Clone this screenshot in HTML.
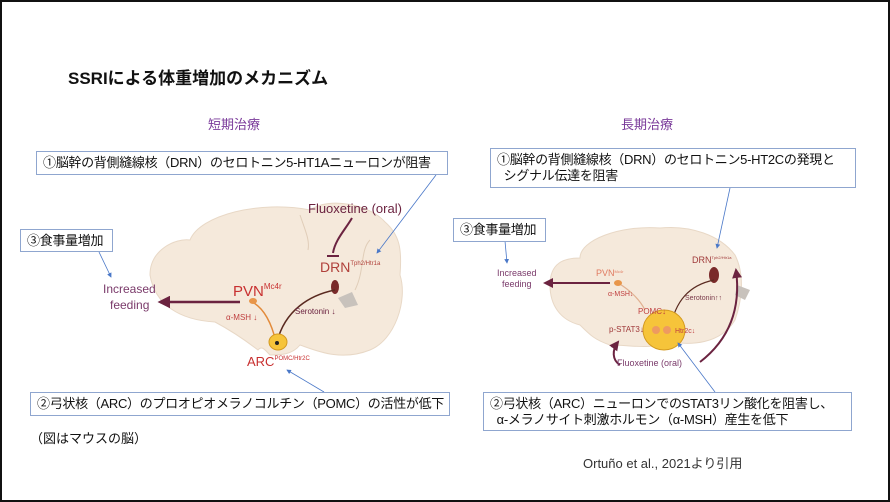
<!DOCTYPE html>
<html><head><meta charset="utf-8"><style>
body{margin:0;width:890px;height:502px;overflow:hidden;background:#fff;font-family:"Liberation Sans","Noto Sans CJK JP",sans-serif}
.f{position:absolute;left:0;top:0;width:886px;height:498px;border:2px solid #111}
.t{position:absolute;white-space:nowrap}
.b{position:absolute;border:1px solid #8fa6cf;background:#fff;font-size:13px;color:#111;padding:0 0 0 6px;box-sizing:border-box;line-height:19px;white-space:nowrap;letter-spacing:-0.3px;overflow:hidden}
</style></head><body>
<div class="f"></div>
<svg width="890" height="502" style="position:absolute;left:0;top:0">
<defs>
<marker id="a" markerWidth="6" markerHeight="6" refX="5" refY="3" orient="auto"><path d="M0,0L6,3L0,6z" fill="#4a78c8"/></marker>
<marker id="p" markerWidth="5" markerHeight="5" refX="4" refY="2.5" orient="auto"><path d="M0,0L5,2.5L0,5z" fill="#6b2340"/></marker>
</defs>
<path d="M150,275 C150,250 175,238 190,240 C200,215 260,200 310,210 C330,196 370,205 385,222 C400,235 402,250 400,275 C408,300 395,340 370,350 C340,362 315,350 300,345 C292,355 280,355 270,355 C265,350 262,345 258,350 C245,340 230,330 215,322 C180,320 155,305 150,275Z" fill="#f5e9db" stroke="#e8d8c6"/>
<path d="M338,298 L352,292 L358,305 L345,308Z" fill="#c8c2bc"/>
<path d="M300,215 C305,230 310,240 308,250" stroke="#e0cdb8" fill="none"/>
<path d="M355,290 C365,270 360,250 370,240" stroke="#e0cdb8" fill="none"/>
<path d="M550,285 C550,262 565,258 580,258 C580,240 620,225 660,228 C690,225 720,235 735,255 C745,275 742,300 735,320 C720,345 690,345 670,342 C650,350 630,345 610,345 C595,340 590,335 580,325 C560,320 550,305 550,285Z" fill="#f5e9db" stroke="#e8d8c6"/>
<path d="M737,285 L750,290 L745,300 L735,295Z" fill="#c8c2bc"/>
<path d="M352,218 C345,230 335,240 333,253" stroke="#6b2340" stroke-width="2" fill="none"/>
<line x1="327" y1="256" x2="339" y2="256" stroke="#6b2340" stroke-width="2"/>
<ellipse cx="335" cy="287" rx="4" ry="7" fill="#7a2a2a"/>
<path d="M335,290 C310,295 285,310 277,342" stroke="#5a2a20" stroke-width="1.5" fill="none"/>
<path d="M254,303 C265,310 272,325 276,342" stroke="#e28a3a" stroke-width="1.5" fill="none"/>
<ellipse cx="253" cy="301" rx="4" ry="3" fill="#e8964a"/>
<ellipse cx="278" cy="342" rx="9" ry="8" fill="#f6c43a" stroke="#d49a20"/>
<circle cx="277" cy="343" r="2" fill="#222"/>
<line x1="240" y1="302" x2="160" y2="302" stroke="#6b2340" stroke-width="2.5" marker-end="url(#p)"/>
<ellipse cx="714" cy="275" rx="5" ry="8" fill="#7a2a2a"/>
<path d="M714,280 C690,285 675,300 670,330" stroke="#5a2a20" stroke-width="1.2" fill="none"/>
<path d="M618,283 C630,290 640,300 645,310" stroke="#e0b090" stroke-width="1.2" fill="none"/>
<ellipse cx="618" cy="283" rx="4" ry="3" fill="#e8964a"/>
<ellipse cx="664" cy="330" rx="21" ry="20" fill="#f6c43a" stroke="#d49a20"/>
<circle cx="656" cy="330" r="4" fill="#ee9a60"/><circle cx="667" cy="330" r="4" fill="#ee9a60"/>
<line x1="610" y1="283" x2="545" y2="283" stroke="#6b2340" stroke-width="2" marker-end="url(#p)"/>
<path d="M620,365 C612,360 612,350 618,342" stroke="#6b2340" stroke-width="2" fill="none" marker-end="url(#p)"/>
<path d="M700,362 C735,335 740,300 736,270" stroke="#6b2340" stroke-width="2" fill="none" marker-end="url(#p)"/>
<line x1="436" y1="175" x2="377" y2="253" stroke="#4a78c8" stroke-width="0.8" marker-end="url(#a)"/>
<line x1="99" y1="252" x2="111" y2="277" stroke="#4a78c8" stroke-width="0.8" marker-end="url(#a)"/>
<line x1="324" y1="392" x2="287" y2="370" stroke="#4a78c8" stroke-width="0.8" marker-end="url(#a)"/>
<line x1="730" y1="188" x2="717" y2="248" stroke="#4a78c8" stroke-width="0.8" marker-end="url(#a)"/>
<line x1="505" y1="241" x2="507" y2="263" stroke="#4a78c8" stroke-width="0.8" marker-end="url(#a)"/>
<line x1="715" y1="392" x2="678" y2="343" stroke="#4a78c8" stroke-width="0.8" marker-end="url(#a)"/>
<g font-family="Liberation Sans, sans-serif">
<text x="308" y="213" font-size="13" fill="#6b2340">Fluoxetine (oral)</text>
<text x="320" y="272" font-size="14" fill="#b0403a">DRN<tspan font-size="6" dy="-7">Tph2/Htr1a</tspan></text>
<text x="233" y="296" font-size="15" fill="#c83030">PVN<tspan font-size="8" dy="-7">Mc4r</tspan></text>
<text x="103" y="293" font-size="12" fill="#7a3a6a">Increased</text>
<text x="110" y="309" font-size="12" fill="#7a3a6a">feeding</text>
<text x="226" y="320" font-size="8" fill="#c04040">α-MSH ↓</text>
<text x="295" y="314" font-size="8" fill="#6b2340">Serotonin ↓</text>
<text x="247" y="366" font-size="13" fill="#c83030">ARC<tspan font-size="6" dy="-6">POMC/Htr2C</tspan></text>
<text x="692" y="263" font-size="9" fill="#a03a3a">DRN<tspan font-size="4" dy="-4">Tph2/Htr1a</tspan></text>
<text x="596" y="276" font-size="9" fill="#e07a60">PVN<tspan font-size="4" dy="-3">Mc4r</tspan></text>
<text x="497" y="276" font-size="9" fill="#7a3a6a">Increased</text>
<text x="502" y="287" font-size="9" fill="#7a3a6a">feeding</text>
<text x="608" y="296" font-size="7" fill="#c04040">α-MSH↓</text>
<text x="685" y="300" font-size="7" fill="#7a3a4a">Serotonin↑↑</text>
<text x="638" y="314" font-size="8" fill="#c04040">POMC↓</text>
<text x="609" y="332" font-size="8" fill="#a03a3a">p-STAT3↓</text>
<text x="675" y="333" font-size="7" fill="#c04040">Htr2c↓</text>
<text x="617" y="366" font-size="9" fill="#7a3a6a">Fluoxetine (oral)</text>
</g>
</svg>
<div class="t" style="left:68px;top:64px;font-size:17px;font-weight:bold;color:#111">SSRIによる体重増加のメカニズム</div>
<div class="t" style="left:208px;top:114px;font-size:13px;color:#7a3a9a">短期治療</div>
<div class="t" style="left:621px;top:114px;font-size:13px;color:#7a3a9a">長期治療</div>
<div class="b" style="left:36px;top:151px;width:412px;height:24px;line-height:22px">①脳幹の背側縫線核（DRN）のセロトニン5-HT1Aニューロンが阻害</div>
<div class="b" style="left:20px;top:229px;width:93px;height:23px;line-height:21px">③食事量増加</div>
<div class="b" style="left:30px;top:392px;width:420px;height:24px;line-height:22px">②弓状核（ARC）のプロオピオメラノコルチン（POMC）の活性が低下</div>
<div class="t" style="left:30px;top:428px;font-size:13px;color:#111">（図はマウスの脳）</div>
<div class="b" style="left:490px;top:148px;width:366px;height:40px;line-height:16px;padding-top:3px">①脳幹の背側縫線核（DRN）のセロトニン5-HT2Cの発現と<br>&nbsp;&nbsp;シグナル伝達を阻害</div>
<div class="b" style="left:453px;top:218px;width:93px;height:24px;line-height:22px">③食事量増加</div>
<div class="b" style="left:483px;top:392px;width:369px;height:39px;line-height:16px;padding-top:3px">②弓状核（ARC）ニューロンでのSTAT3リン酸化を阻害し、<br>&nbsp;&nbsp;α-メラノサイト刺激ホルモン（α-MSH）産生を低下</div>
<div class="t" style="left:583px;top:453px;font-size:13px;color:#333">Ortuño et al., 2021より引用</div>
</body></html>
